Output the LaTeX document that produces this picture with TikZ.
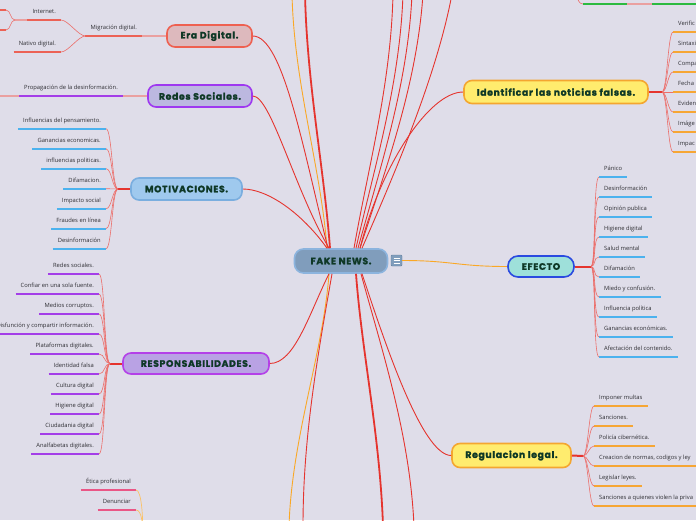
\documentclass[tikz,border=0pt]{standalone}
\usepackage{fontspec}
\setmainfont{Open Sans}
\newfontfamily\titlefont{Poppins}[LetterSpace=7,BoldFeatures={FakeBold=1.6}]
\usetikzlibrary{positioning}
\definecolor{paper}{RGB}{223,221,233}
\definecolor{ttl}{RGB}{14,56,38}
\definecolor{txt}{RGB}{45,45,50}
\definecolor{limbc}{RGB}{229,52,46}
\definecolor{twigc}{RGB}{236,110,106}
\definecolor{linkc}{RGB}{234,160,160}
\definecolor{cOr}{RGB}{250,168,38}
\definecolor{uBlue}{RGB}{76,178,238}
\definecolor{uOrange}{RGB}{246,166,52}
\definecolor{uPurple}{RGB}{164,62,232}
\definecolor{uSalmon}{RGB}{236,98,86}
\definecolor{uPink}{RGB}{234,86,134}
\definecolor{uGreen}{RGB}{44,186,64}
\definecolor{fFake}{RGB}{128,157,188}
\definecolor{dFake}{RGB}{140,180,222}
\definecolor{fEfe}{RGB}{158,224,218}
\definecolor{dEfe}{RGB}{42,74,224}
\definecolor{fYel}{RGB}{255,236,110}
\definecolor{dYel}{RGB}{244,166,48}
\definecolor{fEra}{RGB}{221,185,189}
\definecolor{dEra}{RGB}{238,96,80}
\definecolor{fRed}{RGB}{188,184,224}
\definecolor{dRed}{RGB}{158,56,240}
\definecolor{fMot}{RGB}{159,201,238}
\definecolor{dMot}{RGB}{122,174,223}
\definecolor{fRes}{RGB}{185,162,228}
\definecolor{dRes}{RGB}{180,64,232}
\definecolor{dIcon}{RGB}{96,126,158}
\tikzset{
  hub/.style={draw=#1,rounded corners=8pt,line width=1.6pt,text=ttl,inner sep=0pt,
    font=\titlefont\bfseries\fontsize{9.3}{11}\selectfont},
  leaf/.style={font=\fontsize{5.8}{7}\selectfont,text=txt,inner xsep=5pt,
    inner ysep=0pt,text height=4.5pt,text depth=6.4pt},
  ul/.style={append after command={(\tikzlastnode.south west)
    edge[draw=#1,line width=1.7pt] (\tikzlastnode.south east)}},
  lr/.style={leaf,anchor=south west,ul=#1},
  ll/.style={leaf,anchor=south east,ul=#1},
  limb/.style={draw=#1,line width=.9pt},
  limb/.default=limbc,
  stem/.style={draw=limbc,line width=2pt},
  twig/.style={draw=twigc,line width=.6pt},
  link/.style={draw=linkc,line width=1.3pt},
  icon/.style={draw=dIcon,fill=fFake,minimum size=11pt,inner sep=0pt,rounded corners=1pt},
}

\begin{document}
\begin{tikzpicture}[x=1pt,y=-1pt]
  \fill[paper] (0,0) rectangle (696,520);
  \useasboundingbox (0,0) rectangle (696,520);
  \clip (0,0) rectangle (696,520);

  % centre and main topics
  \node[hub=dFake,fill=fFake,minimum width=93pt,minimum height=24pt,rounded corners=9pt] (fake) at (341,261) {FAKE NEWS.};
  \node[icon] (menu) at (396.5,260.5) {};
  \draw[white,line width=.7pt] ([xshift=-3pt,yshift=2.5pt]menu.center) -- ([xshift=3pt,yshift=2.5pt]menu.center)
    ([xshift=-3pt]menu.center) -- ([xshift=3pt]menu.center)
    ([xshift=-3pt,yshift=-2.5pt]menu.center) -- ([xshift=3pt,yshift=-2.5pt]menu.center);
  \node[hub=dEfe,fill=fEfe,minimum width=66pt,minimum height=21pt,rounded corners=10pt] (efe) at (541,266.5) {EFECTO};
  \node[hub=dYel,fill=fYel,minimum width=184pt,minimum height=23pt] (idf) at (556,92) {Identificar las noticias falsas.};
  \node[hub=dYel,fill=fYel,minimum width=119pt,minimum height=24pt] (reg) at (511.5,455.5) {Regulacion legal.};
  \node[hub=dEra,fill=fEra,minimum width=85pt,minimum height=22pt] (era) at (209.5,36) {Era Digital.};
  \node[hub=dRed,fill=fRed,minimum width=104pt,minimum height=22pt] (red) at (200,96) {Redes Sociales.};
  \node[hub=dMot,fill=fMot,minimum width=111pt,minimum height=22pt] (mot) at (186.5,189) {MOTIVACIONES.};
  \node[hub=dRes,fill=fRes,minimum width=146pt,minimum height=21pt] (res) at (196,363.5) {RESPONSABILIDADES.};

  % branches out of the frame
  \coordinate (up1) at (292,-6); \coordinate (up2) at (305,-6);
  \coordinate (up3) at (393,-6); \coordinate (up4) at (403,-6);
  \coordinate (up5) at (412,-6); \coordinate (up6) at (423,-6);
  \coordinate (up7) at (452,-6);
  \coordinate (dn1) at (289,526); \coordinate (dn2) at (303,526);
  \coordinate (dn3) at (383,526); \coordinate (dn4) at (414,526);
  \draw[limb=cOr] ([xshift=-14pt]fake.north) .. controls +(-6,-80) and +(2,90) .. (up1);
  \draw[limb,line width=1.8pt] ([xshift=-11pt]fake.north) .. controls +(-6,-80) and +(2,90) .. (up2);
  \draw[limb] ([xshift=13pt]fake.north) .. controls +(14,-80) and +(-2,90) .. (up3);
  \draw[limb] ([xshift=15pt]fake.north) .. controls +(18,-80) and +(-3,90) .. (up4);
  \draw[limb] ([xshift=17pt]fake.north) .. controls +(22,-80) and +(-4,90) .. (up5);
  \draw[limb] ([xshift=19pt]fake.north) .. controls +(26,-80) and +(-6,90) .. (up6);
  \draw[limb] ([xshift=21pt]fake.north) .. controls +(35,-80) and +(-15,80) .. (up7);
  \draw[limb=cOr] ([xshift=-12pt]fake.south) .. controls +(-6,80) and +(3,-90) .. (dn1);
  \draw[limb] ([xshift=-9pt]fake.south) .. controls +(-14,80) and +(0,-90) .. (dn2);
  \draw[limb,line width=1.8pt] ([xshift=15pt]fake.south) .. controls +(6,80) and +(-3,-90) .. (dn3);
  \draw[limb] ([xshift=20pt]fake.south) .. controls +(22,80) and +(-4,-90) .. (dn4);

  % centre to topics
  \draw[limb] (era.east) .. controls +(30,0) and +(-25,-100) .. ([xshift=-13pt]fake.north);
  \draw[limb] (red.east) .. controls +(18,0) and +(-35,-60) .. ([xshift=-12pt]fake.north);
  \draw[limb] (mot.east) .. controls +(25,0) and +(-25,-35) .. ([xshift=-14pt]fake.north);
  \draw[limb] (res.east) .. controls +(25,0) and +(-20,40) .. ([xshift=-12pt]fake.south);
  \draw[limb] (idf.west) .. controls +(-35,0) and +(20,-80) .. ([xshift=19pt]fake.north);
  \draw[limb] (reg.west) .. controls +(-30,0) and +(20,60) .. ([xshift=21pt]fake.south);
  \draw[limb=cOr] (menu.east) .. controls +(50,0) and +(-50,0) .. (efe.west);

  % Era Digital
  \node[ll=uSalmon] (mig) at (142,36) {Migración digital.};
  \node[ll=uSalmon] (int) at (61,20) {Internet.};
  \node[ll=uSalmon] (nat) at (61,52) {Nativo digital.};
  \draw[link] (era.west) -- (mig.south east);
  \draw[twig] (mig.south west) .. controls +(-7,0) and +(7,0) .. (int.south east);
  \draw[twig] (mig.south west) .. controls +(-7,0) and +(7,0) .. (nat.south east);
  \coordinate (intj) at (15,20); \coordinate (ic1) at (6,10); \coordinate (ic2) at (6,30);
  \draw[link] (int.south west) -- (intj);
  \draw[twig] (intj) .. controls +(-5,0) and +(5,0) .. (ic1);
  \draw[twig] (intj) .. controls +(-5,0) and +(5,0) .. (ic2);
  \draw[uSalmon,line width=1.7pt] (ic1) -- ++(-12,0) (ic2) -- ++(-12,0);

  % Redes Sociales
  \node[ll=uPurple] (prop) at (123,96) {Propagación de la desinformación.};
  \coordinate (propc) at (-6,96);
  \draw[link] (red.west) -- (prop.south east);
  \draw[link] (prop.south west) -- (propc);

  % MOTIVACIONES
  \coordinate (motj) at (118,189);
  \draw[stem] (mot.west) -- (motj);
  \node[ll=uBlue] (mo1) at (106,128.7) {Influencias del pensamiento.};
  \node[ll=uBlue] (mo2) at (106,148.7) {Ganancias economicas.};
  \node[ll=uBlue] (mo3) at (106,168.7) {influencias politicas.};
  \node[ll=uBlue] (mo4) at (106,188.7) {Difamacion.};
  \node[ll=uBlue] (mo5) at (106,208.7) {Impacto social};
  \node[ll=uBlue] (mo6) at (106,228.7) {Fraudes en línea};
  \node[ll=uBlue] (mo7) at (106,248.7) {Desinformación};
  \draw[twig] (motj) .. controls +(-6,0) and +(6,0) .. (mo1.south east);
  \draw[twig] (motj) .. controls +(-6,0) and +(6,0) .. (mo2.south east);
  \draw[twig] (motj) .. controls +(-6,0) and +(6,0) .. (mo3.south east);
  \draw[twig] (motj) .. controls +(-6,0) and +(6,0) .. (mo4.south east);
  \draw[twig] (motj) .. controls +(-6,0) and +(6,0) .. (mo5.south east);
  \draw[twig] (motj) .. controls +(-6,0) and +(6,0) .. (mo6.south east);
  \draw[twig] (motj) .. controls +(-6,0) and +(6,0) .. (mo7.south east);

  % RESPONSABILIDADES
  \coordinate (resj) at (110,363.5);
  \draw[stem] (res.west) -- (resj);
  \node[ll=uPurple] (re1) at (99,274) {Redes sociales.};
  \node[ll=uPurple] (re2) at (99,294) {Confiar en una sola fuente.};
  \node[ll=uPurple] (re3) at (99,314) {Medios corruptos.};
  \node[ll=uPurple] (re4) at (99,334) {Disfunción y compartir información.};
  \node[ll=uPurple] (re5) at (99,354) {Plataformas digitales.};
  \node[ll=uPurple] (re6) at (99,374) {Identidad falsa};
  \node[ll=uPurple] (re7) at (99,394) {Cultura digital};
  \node[ll=uPurple] (re8) at (99,414) {Higiene digital};
  \node[ll=uPurple] (re9) at (99,434) {Ciudadania digital};
  \node[ll=uPurple] (re10) at (99,454) {Analfabetas digitales.};
  \draw[twig] (resj) .. controls +(-6,0) and +(6,0) .. (re1.south east);
  \draw[twig] (resj) .. controls +(-6,0) and +(6,0) .. (re2.south east);
  \draw[twig] (resj) .. controls +(-6,0) and +(6,0) .. (re3.south east);
  \draw[twig] (resj) .. controls +(-6,0) and +(6,0) .. (re4.south east);
  \draw[twig] (resj) .. controls +(-6,0) and +(6,0) .. (re5.south east);
  \draw[twig] (resj) .. controls +(-6,0) and +(6,0) .. (re6.south east);
  \draw[twig] (resj) .. controls +(-6,0) and +(6,0) .. (re7.south east);
  \draw[twig] (resj) .. controls +(-6,0) and +(6,0) .. (re8.south east);
  \draw[twig] (resj) .. controls +(-6,0) and +(6,0) .. (re9.south east);
  \draw[twig] (resj) .. controls +(-6,0) and +(6,0) .. (re10.south east);

  % branch below the frame
  \node[ll=uPink] (eti) at (136,490) {Ética profesional};
  \node[ll=uPink] (den) at (136,510) {Denunciar};
  \coordinate (etj) at (143,540);
  \draw[limb=cOr!70,line width=.7pt] (eti.south east) .. controls +(6,0) and +(0,-20) .. (etj);
  \draw[limb=cOr!70,line width=.7pt] (den.south east) .. controls +(6,0) and +(0,-15) .. (etj);

  % EFECTO
  \coordinate (efj) at (591,266.5);
  \draw[stem] (efe.east) -- (efj);
  \node[lr=uBlue] (ef1) at (599,177) {Pánico};
  \node[lr=uBlue] (ef2) at (599,197) {Desinformación};
  \node[lr=uBlue] (ef3) at (599,217) {Opinión publica};
  \node[lr=uBlue] (ef4) at (599,237) {Higiene digital};
  \node[lr=uBlue] (ef5) at (599,257) {Salud mental};
  \node[lr=uBlue] (ef6) at (599,277) {Difamación};
  \node[lr=uBlue] (ef7) at (599,297) {Miedo y confusión.};
  \node[lr=uBlue] (ef8) at (599,317) {Influencia política};
  \node[lr=uBlue] (ef9) at (599,337) {Ganancias económicas.};
  \node[lr=uBlue] (ef10) at (599,357) {Afectación del contenido.};
  \draw[twig] (efj) .. controls +(5,0) and +(-6,0) .. (ef1.south west);
  \draw[twig] (efj) .. controls +(5,0) and +(-6,0) .. (ef2.south west);
  \draw[twig] (efj) .. controls +(5,0) and +(-6,0) .. (ef3.south west);
  \draw[twig] (efj) .. controls +(5,0) and +(-6,0) .. (ef4.south west);
  \draw[twig] (efj) .. controls +(5,0) and +(-6,0) .. (ef5.south west);
  \draw[twig] (efj) .. controls +(5,0) and +(-6,0) .. (ef6.south west);
  \draw[twig] (efj) .. controls +(5,0) and +(-6,0) .. (ef7.south west);
  \draw[twig] (efj) .. controls +(5,0) and +(-6,0) .. (ef8.south west);
  \draw[twig] (efj) .. controls +(5,0) and +(-6,0) .. (ef9.south west);
  \draw[twig] (efj) .. controls +(5,0) and +(-6,0) .. (ef10.south west);

  % Identificar las noticias falsas
  \coordinate (idj) at (662,92);
  \draw[stem] (idf.east) -- (idj);
  \node[lr=uOrange] (id1) at (673,32) {Verific};
  \node[lr=uOrange] (id2) at (673,52) {Sintaxi};
  \node[lr=uOrange] (id3) at (673,72) {Compa};
  \node[lr=uOrange] (id4) at (673,92) {Fecha};
  \node[lr=uOrange] (id5) at (673,112) {Eviden};
  \node[lr=uOrange] (id6) at (673,132) {Imáge};
  \node[lr=uOrange] (id7) at (673,152) {Impac};
  \draw[twig] (idj) .. controls +(5,0) and +(-5,0) .. (id1.south west);
  \draw[twig] (idj) .. controls +(5,0) and +(-5,0) .. (id2.south west);
  \draw[twig] (idj) .. controls +(5,0) and +(-5,0) .. (id3.south west);
  \draw[twig] (idj) .. controls +(5,0) and +(-5,0) .. (id4.south west);
  \draw[twig] (idj) .. controls +(5,0) and +(-5,0) .. (id5.south west);
  \draw[twig] (idj) .. controls +(5,0) and +(-5,0) .. (id6.south west);
  \draw[twig] (idj) .. controls +(5,0) and +(-5,0) .. (id7.south west);

  % Regulacion legal
  \coordinate (rgj) at (583,456);
  \draw[stem] (reg.east) -- (rgj);
  \node[lr=uOrange] (rg1) at (594,406) {Imponer multas};
  \node[lr=uOrange] (rg2) at (594,426) {Sanciones.};
  \node[lr=uOrange] (rg3) at (594,446) {Policía cibernética.};
  \node[lr=uOrange] (rg4) at (594,466) {Creacion de normas, codigos y ley};
  \node[lr=uOrange] (rg5) at (594,486) {Legislar leyes.};
  \node[lr=uOrange] (rg6) at (594,506) {Sanciones a quienes violen la priva};
  \draw[twig] (rgj) .. controls +(5,0) and +(-5,0) .. (rg1.south west);
  \draw[twig] (rgj) .. controls +(5,0) and +(-5,0) .. (rg2.south west);
  \draw[twig] (rgj) .. controls +(5,0) and +(-5,0) .. (rg3.south west);
  \draw[twig] (rgj) .. controls +(5,0) and +(-5,0) .. (rg4.south west);
  \draw[twig] (rgj) .. controls +(5,0) and +(-5,0) .. (rg5.south west);
  \draw[twig] (rgj) .. controls +(5,0) and +(-5,0) .. (rg6.south west);

  % branch above the frame, top right
  \coordinate (gtop) at (576,-6);
  \coordinate (g1w) at (583,4); \coordinate (g1e) at (627,4);
  \coordinate (g2w) at (652,4); \coordinate (g2e) at (700,4);
  \draw[twig] (gtop) .. controls +(2,6) and +(-4,0) .. (g1w);
  \draw[uGreen,line width=1.7pt] (g1w) -- (g1e);
  \draw[link] (g1e) -- (g2w);
  \draw[uGreen,line width=1.7pt] (g2w) -- (g2e);
\end{tikzpicture}
\end{document}
